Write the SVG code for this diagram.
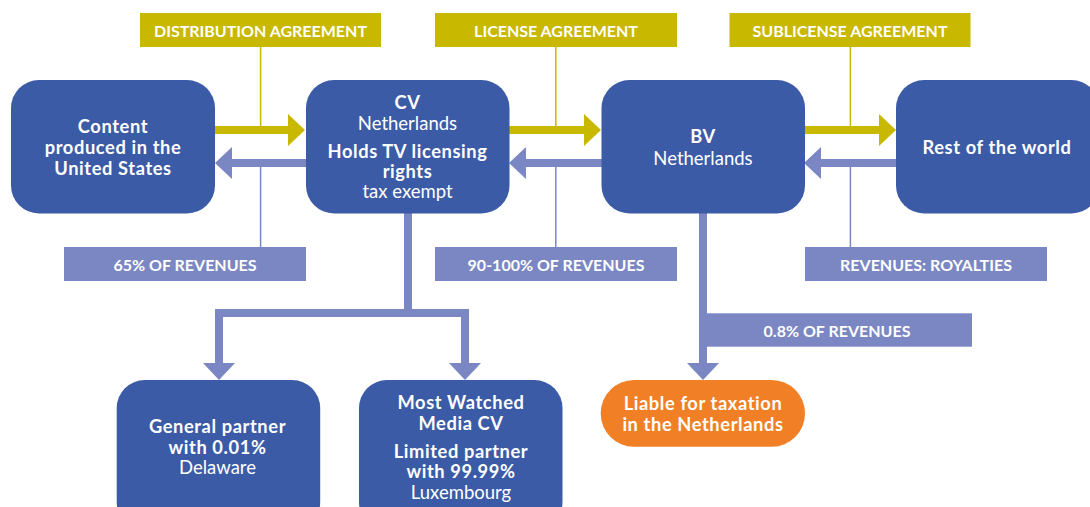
<svg xmlns="http://www.w3.org/2000/svg" width="1090" height="507" viewBox="0 0 1090 507">
<style>
.node{fill:#3B5BA6}
.lab{fill:#C8B800}
.rev{fill:#7A87C2}
.t{font-family:Lato,"Open Sans","Liberation Sans",sans-serif;fill:#fff;text-anchor:middle}
.b{font-size:18.3px;font-weight:700;letter-spacing:0.6px}
.r{font-size:18.5px;font-weight:400}
.l{font-size:16px;font-weight:700}
.yb{stroke:#C8B800;stroke-width:8;fill:none}
.pb{stroke:#7A87C2;stroke-width:8;fill:none}
.yt{stroke:#C8B800;stroke-width:1.5;fill:none}
.pt{stroke:#7A87C2;stroke-width:1.5;fill:none}
</style>
<defs>
<marker id="ya" markerUnits="userSpaceOnUse" markerWidth="17" markerHeight="32" refX="0" refY="16" orient="auto"><path d="M0,0 L17,16 L0,32 Z" fill="#C8B800"/></marker>
<marker id="pa" markerUnits="userSpaceOnUse" markerWidth="17" markerHeight="32" refX="0" refY="16" orient="auto"><path d="M0,0 L17,16 L0,32 Z" fill="#7A87C2"/></marker>
</defs>
<rect width="1090" height="507" fill="#fff"/>

<g id="connectors">
<path class="yt" d="M260.6,47 V126"/>
<path class="pt" d="M260.6,167 V247"/>
<path class="yt" d="M555.8,47 V126"/>
<path class="pt" d="M555.8,167 V247"/>
<path class="yt" d="M850.4,47 V126"/>
<path class="pt" d="M850.4,167 V247"/>
<path class="yb" d="M214,130 H288" marker-end="url(#ya)"/>
<path class="yb" d="M509,130 H584" marker-end="url(#ya)"/>
<path class="yb" d="M804,130 H879" marker-end="url(#ya)"/>
<path class="pb" d="M306,163 H232" marker-end="url(#pa)"/>
<path class="pb" d="M602,163 H526" marker-end="url(#pa)"/>
<path class="pb" d="M897,163 H821" marker-end="url(#pa)"/>
<path class="pb" d="M408,212 V313 H219 V363" marker-end="url(#pa)"/>
<path class="pb" d="M408,313 H465 V363" marker-end="url(#pa)"/>
<path class="pb" d="M703,212 V363" marker-end="url(#pa)"/>
</g>

<g id="lbl-distribution"><rect class="lab" x="140" y="13" width="241" height="34"/><text class="t l" x="260.5" y="36.5">DISTRIBUTION AGREEMENT</text></g>
<g id="lbl-license"><rect class="lab" x="435" y="13" width="242" height="34"/><text class="t l" x="556" y="36.5">LICENSE AGREEMENT</text></g>
<g id="lbl-sublicense"><rect class="lab" x="729.5" y="13" width="241" height="34"/><text class="t l" x="850" y="36.5">SUBLICENSE AGREEMENT</text></g>

<g id="rev-65"><rect class="rev" x="64" y="247" width="242" height="34"/><text class="t l" x="185" y="270.5">65% OF REVENUES</text></g>
<g id="rev-90"><rect class="rev" x="435" y="247" width="242" height="34"/><text class="t l" x="556" y="270.5">90-100% OF REVENUES</text></g>
<g id="rev-royalties"><rect class="rev" x="805" y="247" width="242" height="34"/><text class="t l" x="926" y="270.5">REVENUES: ROYALTIES</text></g>
<g id="rev-08"><rect class="rev" x="707" y="313.3" width="265" height="33.4"/><text class="t l" x="837" y="336.5">0.8% OF REVENUES</text></g>

<g id="n-content"><rect class="node" x="11" y="80" width="204" height="133.5" rx="28"/>
<text class="t b" x="113" y="133">Content</text>
<text class="t b" x="113" y="154">produced in the</text>
<text class="t b" x="113" y="175">United States</text></g>

<g id="n-cv"><rect class="node" x="306" y="80" width="203.5" height="133.5" rx="28"/>
<text class="t b" x="407.5" y="109">CV</text>
<text class="t r" x="407.5" y="129.5">Netherlands</text>
<text class="t b" x="407.5" y="157.5">Holds TV licensing</text>
<text class="t b" x="407.5" y="178">rights</text>
<text class="t r" x="407.5" y="198">tax exempt</text></g>

<g id="n-bv"><rect class="node" x="601.5" y="80" width="203.5" height="133.5" rx="28"/>
<text class="t b" x="703" y="143">BV</text>
<text class="t r" x="703" y="165">Netherlands</text></g>

<g id="n-row"><rect class="node" x="896" y="80" width="203.5" height="133.5" rx="28"/>
<text class="t b" x="997" y="154">Rest of the world</text></g>

<g id="n-gp"><rect class="node" x="116.7" y="380" width="203.5" height="150" rx="28"/>
<text class="t b" x="217.5" y="433">General partner</text>
<text class="t b" x="217.5" y="454">with 0.01%</text>
<text class="t r" x="217.5" y="474">Delaware</text></g>

<g id="n-mwm"><rect class="node" x="359" y="380" width="203.5" height="150" rx="28"/>
<text class="t b" x="461" y="409">Most Watched</text>
<text class="t b" x="461" y="430">Media CV</text>
<text class="t b" x="461" y="457.5">Limited partner</text>
<text class="t b" x="461" y="478">with 99.99%</text>
<text class="t r" x="461" y="498.5">Luxembourg</text></g>

<g id="n-liable"><rect x="600.7" y="380" width="204.3" height="66.7" rx="33.3" fill="#F07F26"/>
<text class="t b" x="703" y="410">Liable for taxation</text>
<text class="t b" x="703" y="431">in the Netherlands</text></g>
</svg>
